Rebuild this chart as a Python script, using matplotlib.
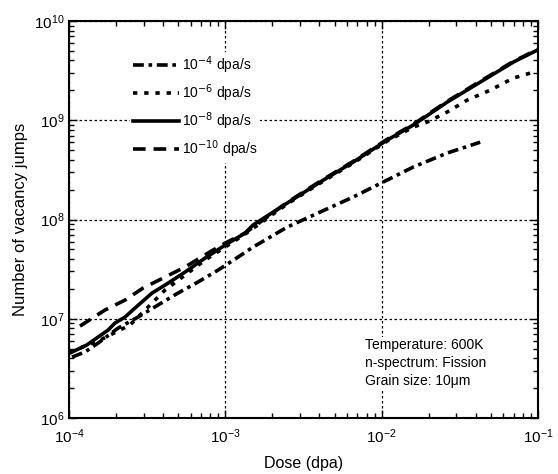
import numpy as np
import matplotlib
matplotlib.use('Agg')
import matplotlib.pyplot as plt

plt.rcParams['font.family'] = ['Liberation Sans', 'DejaVu Sans']

# data (log10 values)
dose_1e4 = [-3.981, -3.898, -3.814, -3.686, -3.559, -3.431, -3.303, -3.175, -3.047, -2.919,
            -2.823, -2.605, -2.394, -2.183, -1.991, -1.799, -1.582, -1.370]
jumps_1e4 = [6.614, 6.665, 6.755, 6.906, 7.017, 7.138, 7.259, 7.370, 7.490, 7.621,
             7.722, 7.923, 8.075, 8.226, 8.377, 8.528, 8.669, 8.779]

dose_1e6 = [-3.994, -3.802, -3.610, -3.386, -3.130, -2.874, -2.605, -2.394, -2.183, -1.965,
            -1.799, -1.710, -1.582, -1.454, -1.306, -1.159, -1.031]
jumps_1e6 = [6.665, 6.785, 6.937, 7.289, 7.591, 7.853, 8.155, 8.367, 8.568, 8.790,
             8.930, 8.981, 9.082, 9.202, 9.303, 9.424, 9.484]

dose_1e8 = [-3.994, -3.887, -3.814, -3.750, -3.706, -3.642, -3.578, -3.469, -3.386, -3.258,
            -3.130, -3.002, -2.874, -2.823, -2.605, -2.394, -2.183, -1.965, -1.799, -1.582,
            -1.370, -1.159, -1.006]
jumps_1e8 = [6.655, 6.735, 6.816, 6.886, 6.957, 7.017, 7.108, 7.259, 7.339, 7.470,
             7.611, 7.742, 7.863, 7.944, 8.165, 8.377, 8.578, 8.800, 8.951, 9.182,
             9.384, 9.585, 9.706]

dose_1e10 = [-3.930, -3.770, -3.642, -3.527, -3.386, -3.258, -3.111, -3.002, -2.874, -2.605,
             -2.394, -2.183, -1.965, -1.799, -1.582, -1.370, -1.159, -1.000]
jumps_1e10 = [6.926, 7.088, 7.188, 7.309, 7.420, 7.521, 7.662, 7.762, 7.863, 8.172,
              8.385, 8.585, 8.808, 8.958, 9.190, 9.392, 9.592, 9.716]

labels = [r'10$^{-4}$ dpa/s', r'10$^{-6}$ dpa/s', r'10$^{-8}$ dpa/s', r'10$^{-10}$ dpa/s']

fig = plt.figure(figsize=(5.58, 4.74), dpi=100)
ax = fig.add_axes([0.1237, 0.1181, 0.8405, 0.8376])

lw = 2.6
ax.plot(10**np.array(dose_1e4), 10**np.array(jumps_1e4), color='black', lw=lw,
        linestyle=(0, (3, 1.3, 1, 1.3)), label=labels[0])
ax.plot(10**np.array(dose_1e6), 10**np.array(jumps_1e6), color='black', lw=lw,
        linestyle=(0, (1.2, 1.9)), label=labels[1])
ax.plot(10**np.array(dose_1e8), 10**np.array(jumps_1e8), color='black', lw=lw,
        linestyle='-', label=labels[2])
ax.plot(10**np.array(dose_1e10), 10**np.array(jumps_1e10), color='black', lw=lw,
        linestyle=(0, (3.5, 2.2)), label=labels[3])

ax.set_xscale('log')
ax.set_yscale('log')
ax.set_xlim(1e-4, 1e-1)
ax.set_ylim(1e6, 1e10)

ax.grid(True, which='major', linestyle=(0, (2, 2)), color='black', lw=0.9)
ax.tick_params(which='both', direction='in', top=True, right=True)
ax.tick_params(which='major', length=6, width=1, labelsize=11)
ax.tick_params(axis='x', which='major', pad=7)
ax.tick_params(which='minor', length=3.5, width=1)
for s in ax.spines.values():
    s.set_linewidth(1.5)

ax.set_xlabel('Dose (dpa)', fontsize=11.5, labelpad=7)
ax.set_ylabel('Number of vacancy jumps', fontsize=12, labelpad=4)

leg = ax.legend(loc='upper left', bbox_to_anchor=(0.116, 0.94), fontsize=10,
                handlelength=3.3, labelspacing=0.46, handletextpad=0.2,
                frameon=True, fancybox=False, borderpad=0.2)
leg.get_frame().set_edgecolor('none')
leg.get_frame().set_facecolor('white')
leg.get_frame().set_alpha(1)

ax.text(0.631, 0.1385, 'Temperature: 600K\nn-spectrum: Fission\nGrain size: 10\u03bcm',
        transform=ax.transAxes, fontsize=10, va='center', ha='left', linespacing=1.35,
        bbox=dict(facecolor='white', edgecolor='none', pad=1))

fig.savefig('out.png', dpi=100)
